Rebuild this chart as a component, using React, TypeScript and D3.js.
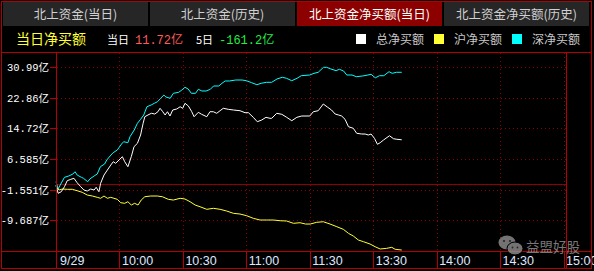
import React from 'react';
import * as d3 from 'd3';

const tabLabels = ['北上资金(当日)', '北上资金(历史)', '北上资金净买额(当日)', '北上资金净买额(历史)'];
const activeTab = 2;
const titleText = '当日净买额';
const todayLabel = '当日';
const todayValue = '11.72亿';
const fiveDayLabel = '5日';
const fiveDayValue = '-161.2亿';
const seriesNames = ['总净买额', '沪净买额', '深净买额'];
const seriesColors = ['#ffffff', '#ffff33', '#00ffff'];

const yTicks = [30.99, 22.86, 14.72, 6.585, -1.551, -9.687];
const yTickLabels = ['30.99亿', '22.86亿', '14.72亿', '6.585亿', '-1.551亿', '-9.687亿'];
const xTickMinutes = [0, 30, 60, 90, 120, 150, 180, 210, 240];
const xTickLabels = ['9/29', '10:00', '10:30', '11:00', '11:30', '13:30', '14:00', '14:30', '15:00'];

// 总净买额 (minutes since 9:30, trading minutes)
const totalMinutes = [0, 1, 2.5, 4, 5.3, 7, 8.5, 10, 11.7, 13.2, 14.8, 16.4, 18, 19, 20.3, 21.1, 22.7, 24.3, 25.9, 27.1, 28.2, 29.8, 31.4, 32.5, 34, 35.6, 36.9, 38.5, 40, 41.2, 42, 43.5, 45.1, 46.7, 48.2, 49.2, 50.5, 51.6, 52.7, 53.9, 55.2, 57.1, 58.7, 59.9, 61, 62.6, 64.2, 65.3, 67.3, 68.9, 71.3, 72.8, 74.4, 76, 77.6, 79.1, 81.5, 83.9, 87, 89.4, 91, 93.3, 95.2, 97.3, 99.3, 101.2, 102, 104.4, 106.8, 109.1, 111.5, 113.9, 116.2, 120, 121.7, 124, 126.4, 128.5, 130.3, 132, 133.6, 135.1, 136.7, 138.3, 140.6, 142.2, 144.6, 146.2, 147.7, 149, 150.6, 152, 153.3, 154.9, 157.7, 159.6, 161.2, 163.5];
const totalValues = [-0.31, -2.51, -2.09, -0.76, 0.84, 1.21, 1.48, 0.3, -0.76, -1.64, -1.9, -1.37, -1.64, -0.92, -2.09, 0.15, 2.35, 3.68, 5.01, 5.89, 5.46, 6.34, 7.22, 5.89, 4.56, 7.22, 9.88, 10.78, 12.99, 16.1, 17.85, 18.31, 18.76, 18.57, 19.18, 20.09, 19.18, 18.31, 19.18, 18.04, 19.64, 19.9, 20.51, 20.09, 21.42, 20.7, 19.18, 17.85, 19.02, 18.49, 17.85, 19.18, 19.18, 18.76, 19.45, 20.09, 19.82, 19.64, 19.45, 18.92, 18.92, 17.69, 16.52, 16.98, 17.69, 17.43, 17.43, 18.76, 18.49, 17.69, 16.79, 17.69, 18.04, 18.04, 19.18, 19.45, 21.23, 20.35, 19.64, 18.57, 18.31, 18.04, 17.16, 15.2, 14.77, 13.44, 13.25, 13.25, 12.99, 13.25, 12.11, 10.52, 10.94, 11.66, 12.8, 12.0, 11.85, 11.72];

// 沪净买额
const shMinutes = [0, 1.4, 3, 5.3, 7.7, 10, 12.4, 14.8, 17.2, 19.5, 21.1, 22.7, 24.3, 25.9, 27.4, 29, 30.6, 32.5, 34, 35.6, 37.2, 38.8, 40.3, 42, 44.8, 47.9, 50.3, 53.1, 55.5, 58.7, 61, 63.4, 65.8, 68.1, 71.3, 74.4, 77.6, 80.7, 83.9, 87, 90.2, 93.3, 96.5, 99.7, 102.8, 106, 109.1, 112.3, 115.4, 118, 120.2, 123.3, 126.4, 129.6, 132.8, 135.9, 138.3, 140.6, 143, 145.4, 148.5, 150.9, 153.3, 156.4, 158.8, 160.4, 163.5];
const shValues = [-0.76, -1.64, -1.37, -1.45, -1.45, -1.82, -2.25, -2.97, -3.23, -3.58, -3.84, -3.23, -3.84, -3.58, -3.84, -4.11, -5.01, -5.17, -4.75, -5.62, -5.17, -5.62, -4.3, -3.42, -3.23, -3.23, -3.42, -4.11, -4.3, -3.84, -4.03, -4.75, -5.62, -6.08, -6.77, -6.5, -6.77, -7.22, -7.83, -8.02, -8.47, -9.16, -9.61, -9.61, -9.61, -9.8, -9.88, -10.49, -10.33, -10.68, -10.68, -10.22, -10.07, -10.68, -11.39, -12.09, -13.15, -13.87, -14.93, -15.38, -15.99, -16.71, -17.32, -17.14, -16.87, -17.4, -17.59];

// 深净买额
const szMinutes = [0, 1, 2, 4, 6, 8, 9, 10, 12, 13, 15, 16, 18, 19.5, 21, 23, 24, 26, 27, 29, 31, 32, 34, 35, 37, 38.5, 40, 41.5, 43, 45, 46.5, 48, 49.5, 51, 52, 54, 55.5, 58, 59.5, 61, 62.5, 64, 66, 67.3, 69, 71, 73, 74.5, 77, 78.5, 80, 82, 85, 88, 90, 92.5, 95, 97, 99.5, 102, 104.5, 107, 109, 111.5, 114, 116, 120, 122, 124, 126.5, 128, 130, 132.5, 134, 136, 137.5, 140, 142, 145, 147.5, 149, 151, 153, 155, 157.5, 159, 161, 163.5];
const szValues = [0.57, -1.37, -0.31, 1.74, 2.09, 2.62, 3.23, 2.35, 1.74, 1.48, 0.57, 1.29, 2.09, 2.62, 4.56, 5.28, 6.34, 7.67, 8.28, 9.0, 10.6, 11.21, 10.94, 12.54, 14.32, 16.1, 17.16, 18.31, 20.51, 20.97, 21.42, 21.84, 22.75, 23.62, 23.09, 22.75, 24.08, 24.34, 24.95, 25.67, 25.22, 24.08, 24.08, 25.14, 24.69, 24.69, 25.14, 26.02, 26.02, 26.74, 27.35, 27.35, 27.61, 27.61, 27.43, 26.9, 26.36, 26.74, 27.0, 27.0, 27.88, 28.33, 28.07, 27.43, 28.07, 28.76, 28.94, 29.39, 29.66, 30.99, 30.99, 30.54, 30.09, 30.46, 30.01, 28.94, 28.94, 28.49, 28.68, 28.94, 29.13, 28.2, 28.76, 28.76, 29.82, 29.39, 29.66, 29.66];

const W = 594;
const H = 271;
const RED = '#b40000';
const GRID = '#8a0000';
const CJK = "'Noto Sans CJK SC', sans-serif";
const MONO = "'Liberation Mono', 'Noto Sans CJK SC', monospace";

const plotLeft = 56.5;
const plotRight = 566.5;
const plotTop = 52.5;
const axisY = 251.5;
const frameBottom = 268.5;

export default function App() {
  const x = d3.scaleLinear().domain([0, 240]).range([56, 563.5]);
  const y = d3.scaleLinear().domain([-9.687, 30.99]).range([220.3, 67.3]);
  const line = d3.line<[number, number]>().x(d => x(d[0])).y(d => y(d[1]));
  const zip = (m: number[], v: number[]) => m.map((t, i) => [t, v[i]] as [number, number]);
  const series = [
    { data: zip(shMinutes, shValues), color: seriesColors[1] },
    { data: zip(szMinutes, szValues), color: seriesColors[2] },
    { data: zip(totalMinutes, totalValues), color: seriesColors[0] },
  ];
  const tabX = [3, 150, 297, 444];
  const tabW = 145;
  const legendX = [356, 434, 512];
  const zeroY = Math.round(y(0)) + 0.5;

  return (
    <svg width={W} height={H} style={{ position: 'absolute', left: 0, top: 0, background: '#000' }}>
      <rect x={0} y={0} width={W} height={H} fill="#000" />
      {/* tabs */}
      {tabLabels.map((t, i) => (
        <g key={t}>
          <rect x={tabX[i]} y={2} width={tabW} height={24} fill={i === activeTab ? '#8c0000' : '#262626'} />
          <text x={tabX[i] + tabW / 2} y={19} textAnchor="middle" fontFamily={CJK} fontSize={12.5}
            fill={i === activeTab ? '#ffffff' : '#d0d0d0'}>{t}</text>
        </g>
      ))}
      {/* header row */}
      <text x={16} y={44} fontFamily={CJK} fontSize={14} fill="#ffff33">{titleText}</text>
      <text x={107} y={44} fontFamily={CJK} fontSize={11} fill="#ffffff">{todayLabel}</text>
      <text x={135} y={44} fontFamily={MONO} fontSize={12} fill="#ff5a5a">{todayValue}</text>
      <text x={196} y={44} fontFamily={CJK} fontSize={11} fill="#ffffff">{fiveDayLabel}</text>
      <text x={219} y={44} fontFamily={MONO} fontSize={12} fill="#22ee44">{fiveDayValue}</text>
      {seriesNames.map((n, i) => (
        <g key={n}>
          <rect x={legendX[i]} y={34} width={10} height={10} fill={seriesColors[i]} />
          <text x={legendX[i] + 20} y={44} fontFamily={CJK} fontSize={12} fill="#c8c8c8">{n}</text>
        </g>
      ))}

      {/* horizontal dotted grid */}
      {yTicks.map(v => (
        <line key={'g' + v} x1={plotLeft} x2={plotRight} y1={Math.round(y(v)) + 0.5} y2={Math.round(y(v)) + 0.5}
          stroke={GRID} strokeDasharray="1,3" shapeRendering="crispEdges" />
      ))}
      {/* vertical dotted grid */}
      {xTickMinutes.slice(1).map(m => (
        <line key={'v' + m} x1={Math.round(x(m)) + 0.5} x2={Math.round(x(m)) + 0.5} y1={plotTop} y2={axisY}
          stroke={GRID} strokeDasharray="1,3" shapeRendering="crispEdges" />
      ))}
      {/* zero line */}
      <line x1={plotLeft} x2={plotRight} y1={zeroY} y2={zeroY} stroke="#900000" shapeRendering="crispEdges" />

      {/* y ticks and labels */}
      {yTicks.map((v, i) => (
        <g key={'t' + v}>
          <line x1={50} x2={56} y1={Math.round(y(v)) + 0.5} y2={Math.round(y(v)) + 0.5} stroke={RED} shapeRendering="crispEdges" />
          <text x={49} y={y(v) + 4} textAnchor="end" fontFamily={MONO} fontSize={10.5} fill="#ffffff">{yTickLabels[i]}</text>
        </g>
      ))}

      {/* series */}
      {series.map((s, i) => (
        <path key={i} d={line(s.data) || ''} fill="none" stroke={s.color} strokeWidth={1} />
      ))}

      {/* x axis */}
      {xTickMinutes.map((m, i) => (
        <g key={'x' + m}>
          {i > 0 && (
            <line x1={Math.round(x(m)) + 0.5} x2={Math.round(x(m)) + 0.5} y1={axisY} y2={frameBottom}
              stroke={RED} shapeRendering="crispEdges" />
          )}
          <text x={x(m) + (i === 0 ? 4 : 2.5)} y={265} fontFamily="'Liberation Sans', Arial, sans-serif" fontSize={12.5}
            fill="#dfe8ff">{xTickLabels[i]}</text>
        </g>
      ))}

      {/* frame lines */}
      <line x1={1} x2={591.5} y1={plotTop} y2={plotTop} stroke={RED} shapeRendering="crispEdges" />
      <line x1={1} x2={591.5} y1={axisY} y2={axisY} stroke={RED} shapeRendering="crispEdges" />
      <line x1={plotLeft} x2={plotLeft} y1={plotTop} y2={frameBottom} stroke={RED} shapeRendering="crispEdges" />
      <line x1={plotRight} x2={plotRight} y1={plotTop} y2={frameBottom} stroke={RED} shapeRendering="crispEdges" />
      <rect x={1.5} y={1.5} width={590} height={267} fill="none" stroke={RED} shapeRendering="crispEdges" />

      {/* watermark */}
      <g opacity={0.75}>
        <ellipse cx={507} cy={242.5} rx={8.5} ry={7} fill="#9a9a9a" />
        <ellipse cx={515} cy={248.5} rx={8} ry={6.5} fill="#9a9a9a" stroke="#000" strokeWidth={1} />
        <circle cx={504} cy={241} r={1.1} fill="#333" />
        <circle cx={510} cy={241} r={1.1} fill="#333" />
        <circle cx={512.5} cy={247.5} r={0.9} fill="#333" />
        <circle cx={517.5} cy={247.5} r={0.9} fill="#333" />
        <text x={526} y={252} fontFamily={CJK} fontSize={13.5} fill="#a0a0a0">益盟好股</text>
      </g>
    </svg>
  );
}
